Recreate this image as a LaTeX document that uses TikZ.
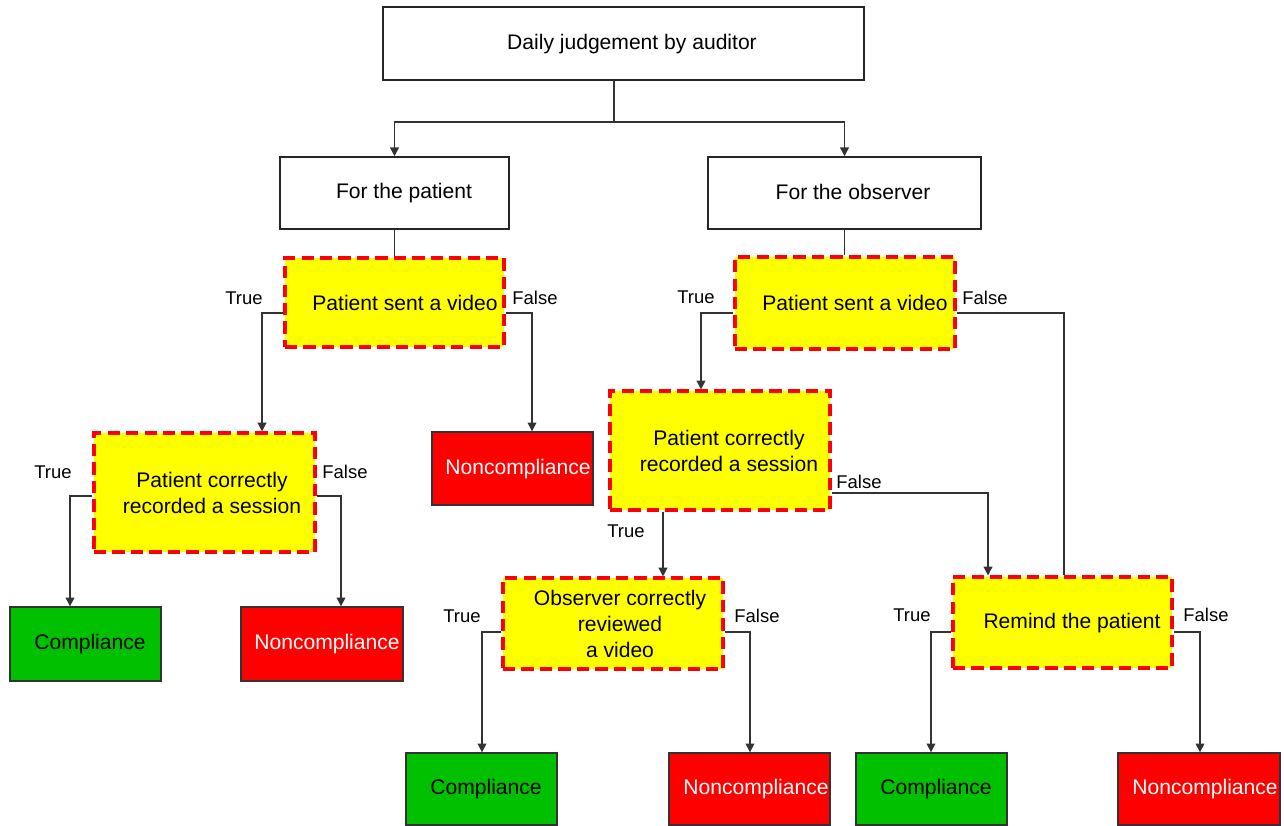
\documentclass[tikz,border=0pt]{standalone}
\usepackage{fontspec}
\setmainfont{Liberation Sans}
\usetikzlibrary{arrows.meta}
\definecolor{ygold}{HTML}{FFFF00}
\definecolor{rfill}{HTML}{FF0000}
\definecolor{gfill}{HTML}{00C000}
\definecolor{lgrey}{HTML}{333333}
\tikzset{
  basebox/.style={rectangle, inner sep=0pt},
  wbox/.style={basebox, draw=black!85, line width=0.9pt, fill=white},
  ybox/.style={basebox, draw=rfill, line width=1.8pt, dash pattern=on 7pt off 3.5pt, fill=ygold},
  gbox/.style={basebox, draw=black!80, line width=0.8pt, fill=gfill, minimum width=3.02cm},
  rbox/.style={basebox, draw=black!80, line width=0.8pt, fill=rfill, minimum width=3.22cm},
  txt/.style={inner sep=0pt, align=center, font=\fontsize{12}{14.7}\selectfont},
  wtxt/.style={txt, text=white},
  conn/.style={draw=lgrey, line width=0.8pt},
  arr/.style={conn, -{Triangle[length=5pt,width=5pt]}},
  lab/.style={font=\fontsize{10.5}{12}\selectfont, inner sep=0pt}
}
\begin{document}
\begin{tikzpicture}[x=0.02cm, y=-0.02cm]
\useasboundingbox (0,0) rectangle (1284,825);
% top level boxes
\node[wbox, minimum width=9.62cm, minimum height=1.46cm] (top) at (623.5,43.5) {};
\node[wbox, minimum width=4.58cm, minimum height=1.44cm] (pat) at (394.5,193) {};
\node[wbox, minimum width=5.46cm, minimum height=1.44cm] (obs) at (844.5,193) {};
% decisions
\node[ybox, minimum width=4.38cm, minimum height=1.78cm] (Y1) at (394.5,302.5) {};
\node[ybox, minimum width=4.42cm, minimum height=2.38cm] (Y2) at (204.5,492.5) {};
\node[ybox, minimum width=4.4cm, minimum height=1.84cm] (Y3) at (845,303) {};
\node[ybox, minimum width=4.4cm, minimum height=2.38cm] (Y4) at (720,450.5) {};
\node[ybox, minimum width=4.4cm, minimum height=1.82cm] (Y5) at (613,623.5) {};
\node[ybox, minimum width=4.38cm, minimum height=1.82cm] (Y6) at (1062.5,622.5) {};
% outcomes
\node[rbox, minimum height=1.46cm] (N1) at (512.5,468.5) {};
\node[gbox, minimum height=1.48cm] (C1) at (85.5,644) {};
\node[rbox, minimum width=3.24cm, minimum height=1.48cm] (N2) at (322,644) {};
\node[gbox, minimum height=1.44cm] (C2) at (481.5,789) {};
\node[rbox, minimum height=1.44cm] (N3) at (749.5,789) {};
\node[gbox, minimum height=1.44cm] (C3) at (931.5,789) {};
\node[rbox, minimum width=3.24cm, minimum height=1.44cm] (N4) at (1199,789) {};
% texts
\node[txt] (ttop) at (632,44) {Daily judgement by auditor};
\node[txt] (tpat) at (404,193) {For the patient};
\node[txt] (tobs) at (853,192) {For the observer};
\node[txt] (tY1) at (405,303) {Patient sent a video};
\node[txt] (tY2) at (212,493) {Patient correctly\\recorded a session};
\node[txt] (tY3) at (855,303) {Patient sent a video};
\node[txt] (tY4) at (729,451) {Patient correctly\\recorded a session};
\node[txt] (tY5) at (620,624) {Observer correctly\\reviewed\\a video};
\node[txt] (tY6) at (1072,623) {Remind the patient};
\node[wtxt] (tN1) at (518,469) {Noncompliance};
\node[txt] (tC1) at (90,644) {Compliance};
\node[wtxt] (tN2) at (327,644) {Noncompliance};
\node[txt] (tC2) at (486,789) {Compliance};
\node[wtxt] (tN3) at (756,789) {Noncompliance};
\node[txt] (tC3) at (936,789) {Compliance};
\node[wtxt] (tN4) at (1205,789) {Noncompliance};
% connectors
\coordinate (j) at (614,122);
\draw[conn] (top.south -| j) -- (j);
\draw[arr] (j) -| (pat.north);
\draw[arr] (j) -| (obs.north);
\draw[conn] (pat.south) -- (pat.south |- Y1.north);
\draw[conn] (obs.south) -- (obs.south |- Y3.north);
\draw[arr] (Y1.west |- 0,313) -| (Y2.north -| 262,0);
\draw[arr] (Y1.east |- 0,313) -| (N1.north -| 532,0);
\draw[arr] (Y2.west |- 0,496) -| (C1.north -| 70,0);
\draw[arr] (Y2.east |- 0,496) -| (N2.north -| 341,0);
\draw[arr] (Y3.west |- 0,313) -| (Y4.north -| 701,0);
\draw[conn] (Y3.east |- 0,313) -| (Y6.north -| 1064,0);
\draw[arr] (Y4.south -| 663,0) -- (Y5.north -| 663,0);
\draw[arr] (Y4.east |- 0,493) -| (Y6.north -| 988,0);
\draw[arr] (Y5.west |- 0,632) -| (C2.north -| 482,0);
\draw[arr] (Y5.east |- 0,632) -| (N3.north -| 750,0);
\draw[arr] (Y6.west |- 0,632) -| (C3.north -| 931,0);
\draw[arr] (Y6.east |- 0,632) -| (N4.north -| 1200,0);
% labels
\node[lab] (l1) at (244,298) {True};
\node[lab] (l2) at (535,298) {False};
\node[lab] (l3) at (53,472) {True};
\node[lab] (l4) at (345,472) {False};
\node[lab] (l5) at (696,297) {True};
\node[lab] (l6) at (985,298) {False};
\node[lab] (l7) at (626,531) {True};
\node[lab] (l8) at (859,482) {False};
\node[lab] (l9) at (462,616) {True};
\node[lab] (l10) at (757,616) {False};
\node[lab] (l11) at (912,615) {True};
\node[lab] (l12) at (1206,615) {False};
\end{tikzpicture}
\end{document}
